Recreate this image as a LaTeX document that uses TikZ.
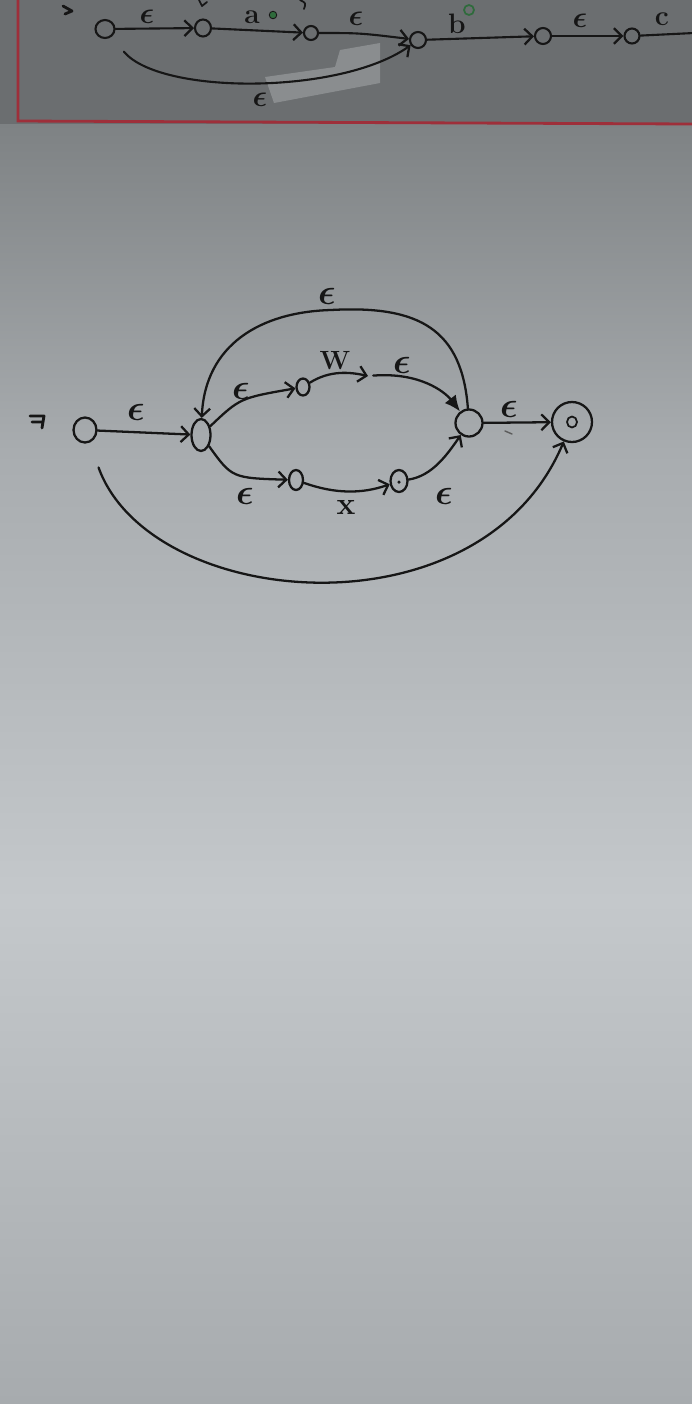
\documentclass[tikz,border=0pt]{standalone}
\usetikzlibrary{arrows.meta,shapes.geometric}
\definecolor{inkc}{HTML}{161616}
\definecolor{bandc}{HTML}{6B6E70}
\definecolor{redl}{HTML}{9E2F3A}
\definecolor{gdot}{HTML}{2F6B3C}
\definecolor{patch}{HTML}{8A8D8F}
\definecolor{bg1}{HTML}{7E8284}
\definecolor{bg2}{HTML}{A8ACAF}
\definecolor{bg3}{HTML}{C4C8CB}
\definecolor{bg4}{HTML}{A7ABAE}
\begin{document}
\begin{tikzpicture}[x=0.02cm,y=-0.02cm,
  ink/.style={draw=inkc,line width=1.3pt,line cap=round,line join=round},
  state/.style={ink,ellipse,inner sep=0pt},
  edge/.style={ink,-{Straight Barb[length=4.5pt,width=9pt,line width=1.3pt]}},
  lbl/.style={text=inkc,inner sep=0pt,font=\fontsize{22}{24}\selectfont\boldmath},
  xlbl/.style={text=inkc,inner sep=0pt,font=\fontsize{18}{20}\selectfont\bfseries},
  slbl/.style={text=inkc,inner sep=0pt,font=\fontsize{16}{18}\selectfont\boldmath},
  tlbl/.style={text=inkc,inner sep=0pt,font=\fontsize{16}{18}\selectfont\bfseries},
  wlbl/.style={text=inkc,inner sep=0pt,font=\fontsize{15}{17}\selectfont\bfseries},
]
\useasboundingbox (0,0) rectangle (692,1404);
% background (photo of paper)
\fill[bandc] (0,0) rectangle (692,125);
\shade[top color=bg1,bottom color=bg2] (0,124) rectangle (692,451);
\shade[top color=bg2,bottom color=bg3] (0,450) rectangle (692,901);
\shade[top color=bg3,bottom color=bg4] (0,900) rectangle (692,1404);
\fill[patch] (265,77) -- (335,67) -- (340,50) -- (380,43) -- (380,83) -- (274,103) -- cycle;
\draw[redl,line width=1.6pt] (18,0) -- (18,121) -- (692,124);

% ---------- top strip ----------
\begin{scope}[ink/.append style={line width=1.2pt}]
\node[state,minimum width=0.38cm,minimum height=0.36cm] (t0) at (105,29) {};
\node[state,minimum width=0.32cm,minimum height=0.34cm] (t1) at (203,28) {};
\node[state,minimum width=0.28cm,minimum height=0.28cm] (t2) at (311,33) {};
\node[state,minimum width=0.32cm,minimum height=0.32cm] (t3) at (418,40) {};
\node[state,minimum width=0.32cm,minimum height=0.32cm] (t4) at (543,36) {};
\node[state,minimum width=0.30cm,minimum height=0.30cm] (t5) at (632,36) {};
\coordinate (tend) at (694,33);
\draw[edge] (t0) -- (t1);
\draw[edge] (t1) -- (t2);
\draw[edge] (t2) .. controls (360,33) .. (t3);
\draw[edge] (t3) -- (t4);
\draw[edge] (t4) -- (t5);
\draw[ink] (t5) -- (tend);
\draw[edge,shorten <=11pt] (t0) .. controls (160,95) and (340,95) .. (t3);
\draw[ink,line width=1.6pt] (63,6) -- (72,11) -- (65,14);
\draw[ink,line width=1pt] (199,0) -- (202,6) -- (207,2);
\draw[ink,line width=1pt] (300,0) .. controls (306,3) .. (304,9);
\end{scope}
\node[slbl] (lt1) at (147,17) {$\epsilon$};
\node[tlbl] (lt2) at (252,17) {a};
\node[circle,fill=gdot,draw=inkc,line width=0.5pt,minimum size=0.15cm,inner sep=0pt] (g1) at (273,15) {};
\node[slbl] (lt3) at (356,19) {$\epsilon$};
\node[tlbl] (lt4) at (457,24) {b};
\node[circle,draw=gdot,line width=1pt,minimum size=0.2cm,inner sep=0pt] (g2) at (469,10) {};
\node[slbl] (lt5) at (580,21) {$\epsilon$};
\node[tlbl] (lt6) at (662,19) {c};
\node[slbl] (lt7) at (260,100) {$\epsilon$};

% ---------- main NFA ----------
\node[state,minimum width=0.46cm,minimum height=0.50cm] (s0) at (85,430) {};
\node[state,minimum width=0.38cm,minimum height=0.64cm] (s1) at (201,435) {};
\node[state,minimum width=0.26cm,minimum height=0.34cm] (s2) at (303,387) {};
\coordinate (wm) at (368,376);
\node[state,minimum width=0.54cm,minimum height=0.54cm] (s3) at (469,423) {};
\node[state,minimum width=0.28cm,minimum height=0.40cm] (s4) at (296,480) {};
\node[state,minimum width=0.34cm,minimum height=0.44cm] (s5) at (399,481) {};
\node[circle,fill=inkc,minimum size=0.07cm,inner sep=0pt] (s5dot) at (399,482) {};
\node[state,minimum width=0.80cm,minimum height=0.80cm] (s6) at (572,422) {};
\node[state,minimum width=0.2cm,minimum height=0.22cm,line width=1pt] (s6in) at (572,422) {};

\draw[ink,line width=1.6pt] (30,416) -- (44,416) -- (42,428) (32,422) -- (43,422);
\draw[edge] (s0) -- (s1);
\draw[edge] (s1) .. controls (240,398) .. (s2);
\draw[edge] (s2) .. controls (330,370) and (350,372) .. (wm);
\draw[ink,-{Latex[length=9pt,width=8pt]},shorten <=3pt] (wm) .. controls (420,372) and (445,392) .. (s3);
\draw[edge] (s3) .. controls (462,330) and (420,305) .. (331,310) .. controls (260,312) and (205,345) .. (s1);
\draw[edge] (s1) .. controls (232,478) .. (s4);
\draw[edge] (s4) .. controls (335,494) and (362,494) .. (s5);
\draw[edge] (s5) .. controls (432,476) and (447,455) .. (s3);
\draw[edge] (s3) -- (s6);
\draw[edge,shorten <=15pt] (s0) .. controls (150,610) and (480,640) .. (s6);
\draw[inkc!70,line width=0.8pt,line cap=round] (505,431) -- (512,434);

\node[lbl] (l1) at (136,412) {$\epsilon$};
\node[lbl] (l2) at (241,391) {$\epsilon$};
\node[wlbl] (l3) at (335,361) {W};
\node[lbl] (l4) at (402,365) {$\epsilon$};
\node[lbl] (l5) at (327,296) {$\epsilon$};
\node[lbl] (l6) at (245,496) {$\epsilon$};
\node[xlbl] (l7) at (346,507) {x};
\node[lbl] (l8) at (444,496) {$\epsilon$};
\node[lbl] (l9) at (509,409) {$\epsilon$};
\end{tikzpicture}
\end{document}
